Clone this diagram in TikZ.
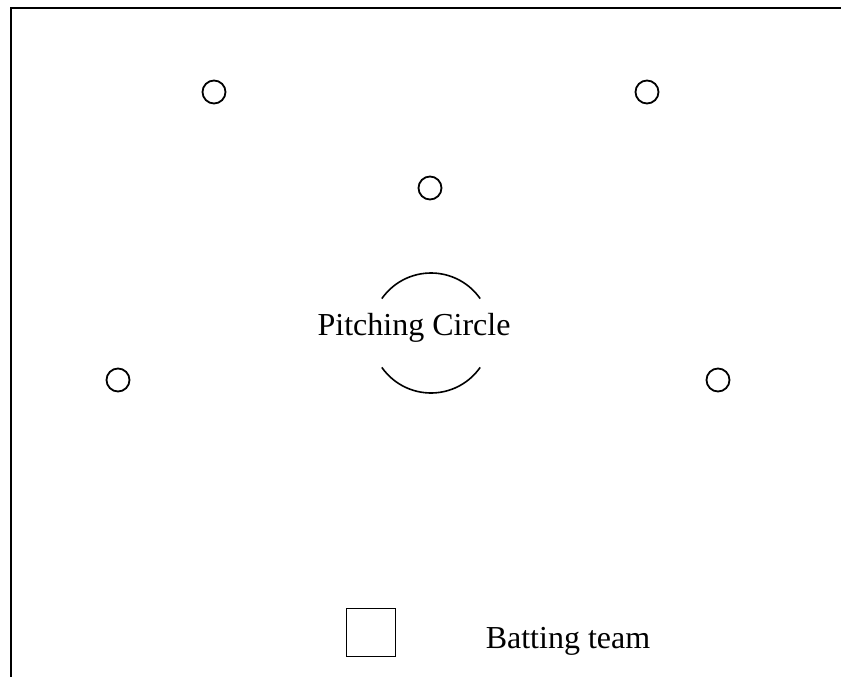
\documentclass[tikz,border=0pt]{standalone}
\usepackage{fontspec}
\setmainfont{Liberation Serif}
\begin{document}
\begin{tikzpicture}[x=1pt,y=-1pt,
  player/.style={circle,draw,line width=1.8pt,minimum size=23pt,inner sep=0pt},
  lbl/.style={font=\fontsize{32}{38}\selectfont,inner sep=0pt,anchor=base},
  batsq/.style={rectangle,draw,line width=1.6pt,minimum width=49pt,minimum height=48pt,inner sep=0pt}]
\useasboundingbox (0,0) rectangle (841,677);
% frame
\coordinate (tl) at (11,8);
\coordinate (tr) at (841,8);
\coordinate (bl) at (11,677);
\draw[line width=2pt] (bl) -- (tl) -- (tr);
% fielders
\node[player] (f1) at (214,92) {};
\node[player] (f2) at (647,92) {};
\node[player] (f3) at (430,188) {};
\node[player] (f4) at (118,380) {};
\node[player] (f5) at (718,380) {};
% pitching circle
\coordinate (pc) at (431,333);
\draw[line width=1.6pt] ([shift={(145:60pt)}]pc) arc[start angle=145,end angle=35,radius=60pt];
\draw[line width=1.6pt] ([shift={(215:60pt)}]pc) arc[start angle=215,end angle=325,radius=60pt];
\node[lbl] (pctext) at (414,335) {Pitching Circle};
% batting team
\node[batsq] (bat) at (371,632.5) {};
\node[lbl] (battext) at (568,648) {Batting team};
\end{tikzpicture}
\end{document}
